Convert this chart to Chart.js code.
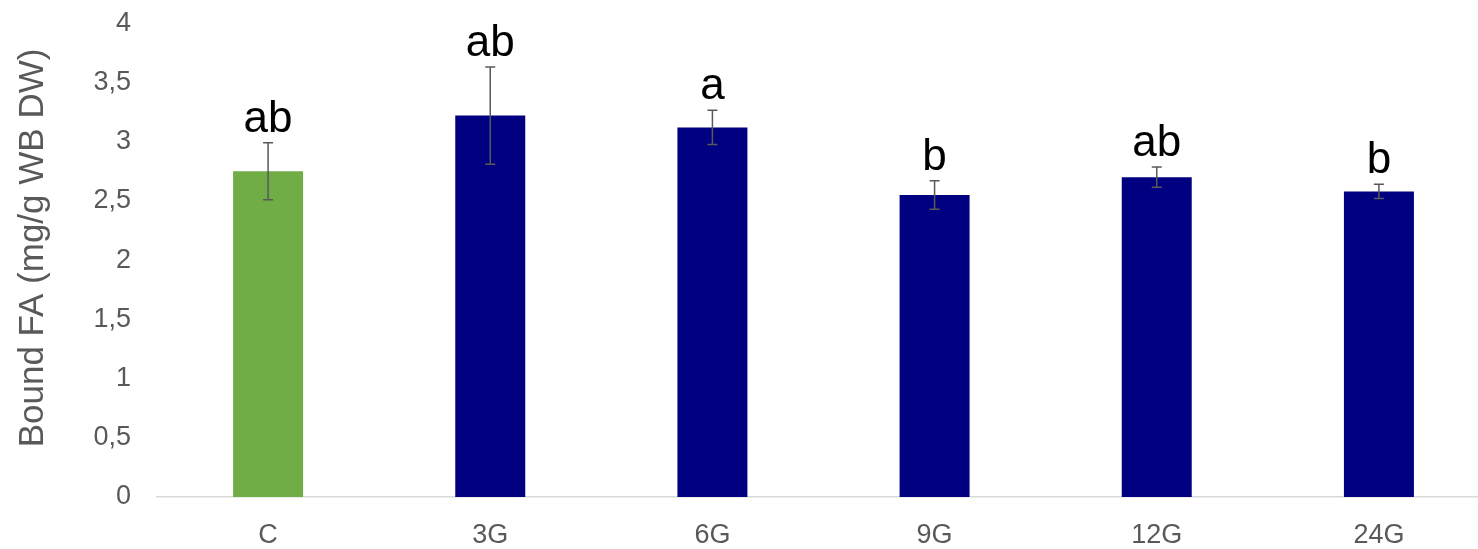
<!DOCTYPE html>
<html>
<head>
<meta charset="utf-8">
<script src="https://cdn.jsdelivr.net/npm/chart.js@4/dist/chart.umd.min.js"></script>
<style>
  html, body { margin: 0; padding: 0; background: #fff; overflow: hidden; }
  #wrap { width: 1478px; height: 549px; overflow: hidden; position: relative; }
  #faChart { position: absolute; left: 0; top: -11px; }
</style>
</head>
<body>
<div id="wrap"><canvas id="faChart" width="1490" height="560"></canvas></div>
<script>
// Data
const categories = ['C', '3G', '6G', '9G', '12G', '24G'];
const means = [2.75, 3.22, 3.12, 2.55, 2.70, 2.58];
const errors = [0.24, 0.41, 0.145, 0.12, 0.085, 0.06];
const letters = ['ab', 'ab', 'a', 'b', 'ab', 'b'];
const barColors = ['#70AD47', '#000080', '#000080', '#000080', '#000080', '#000080'];
const yTitle = 'Bound FA (mg/g WB DW)';

const FONT = '"Liberation Sans", Arial, sans-serif';

// error bars, significance letters, y axis title
const errorBarPlugin = {
  id: 'errorBars',
  afterDatasetsDraw(chart) {
    const ctx = chart.ctx;
    const meta = chart.getDatasetMeta(0);
    const y = chart.scales.y;
    ctx.save();
    meta.data.forEach((bar, i) => {
      const x = bar.x;
      const top = y.getPixelForValue(means[i] + errors[i]);
      const bot = y.getPixelForValue(means[i] - errors[i]);
      ctx.strokeStyle = '#595959';
      ctx.lineWidth = 1.5;
      ctx.beginPath();
      ctx.moveTo(x, top); ctx.lineTo(x, bot);
      ctx.moveTo(x - 5, top); ctx.lineTo(x + 5, top);
      ctx.moveTo(x - 5, bot); ctx.lineTo(x + 5, bot);
      ctx.stroke();

      ctx.fillStyle = '#000';
      ctx.font = '44px ' + FONT;
      ctx.textAlign = 'center';
      ctx.textBaseline = 'alphabetic';
      ctx.fillText(letters[i], x, top - 11);
    });

    // axis title
    ctx.translate(33, 259);
    ctx.rotate(-Math.PI / 2);
    ctx.fillStyle = '#595959';
    ctx.font = '35px ' + FONT;
    ctx.textAlign = 'center';
    ctx.textBaseline = 'middle';
    ctx.fillText(yTitle, 0, 0);
    ctx.restore();
  }
};

const ctx = document.getElementById('faChart').getContext('2d');
new Chart(ctx, {
  type: 'bar',
  data: {
    labels: categories,
    datasets: [{
      data: means,
      backgroundColor: barColors,
      borderWidth: 0,
      barPercentage: 0.315,
      categoryPercentage: 1.0
    }]
  },
  options: {
    responsive: false,
    animation: false,
    layout: { padding: { top: 5, right: 0, left: 0, bottom: 0 } },
    plugins: {
      legend: { display: false },
      tooltip: { enabled: false }
    },
    scales: {
      x: {
        grid: { display: false },
        border: { display: true, color: '#d9d9d9', width: 1.5 },
        ticks: {
          color: '#595959',
          font: { family: FONT, size: 27 },
          padding: 14
        },
        afterFit(scale) { scale.height = 52; }
      },
      y: {
        min: 0,
        max: 4,
        grid: { display: false },
        border: { display: false },
        ticks: {
          stepSize: 0.5,
          color: '#595959',
          padding: 18,
          font: { family: FONT, size: 27 },
          callback: v => String(v).replace('.', ',')
        },
        afterFit(scale) { scale.width = 157; }
      }
    }
  },
  plugins: [errorBarPlugin]
});
</script>
</body>
</html>
